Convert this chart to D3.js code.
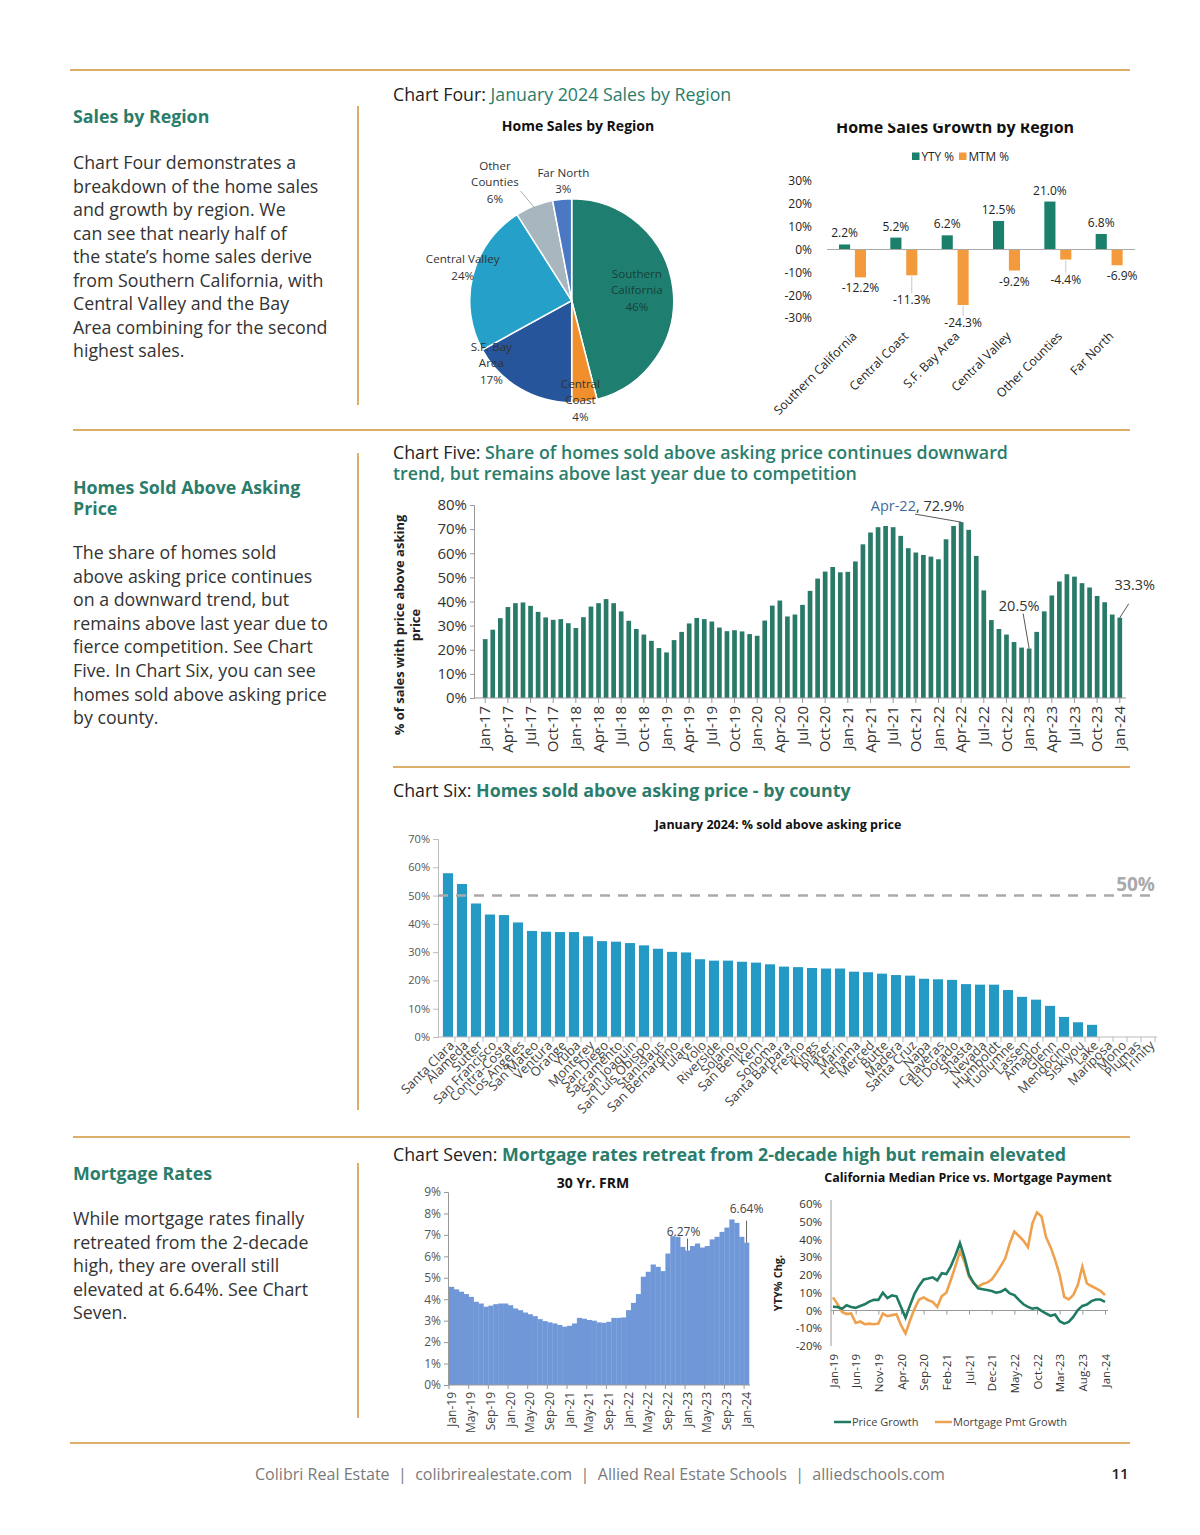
<!DOCTYPE html>
<html lang="en">
<head>
<meta charset="UTF-8">
<title>Sales by Region, Homes Sold Above Asking, Mortgage Rates</title>
<script src="https://cdn.jsdelivr.net/npm/d3@7"></script>
<style>
  body { margin: 0; background: #fff; }
  svg { display: block; }
  text { font-family: "Open Sans", sans-serif; }
  .cg { font-family: Lato, "DejaVu Sans", sans-serif; }
</style>
</head>
<body>
<div id="page"></div>
<script>
// ---- data ----
const pieRegions = ['Southern California', 'Central Coast', 'S.F. Bay Area', 'Central Valley', 'Other Counties', 'Far North'];
const pieShares = [46, 4, 17, 24, 6, 3];

const growthRegions = ['Southern California', 'Central Coast', 'S.F. Bay Area', 'Central Valley', 'Other Counties', 'Far North'];
const ytyValues = [2.2, 5.2, 6.2, 12.5, 21.0, 6.8];
const mtmValues = [-12.2, -11.3, -24.3, -9.2, -4.4, -6.9];

const fmtMon = d3.timeFormat('%b-%y');
const askMonths = d3.timeMonth.range(new Date(2017, 0, 1), new Date(2024, 1, 1)).map(fmtMon);
const askShare = [
  24.4, 28.3, 33.1, 37.7, 39.3, 39.6, 38.2, 35.7, 33.4, 32.4, 32.7, 31.0,
  29.0, 33.5, 37.9, 39.3, 41.0, 39.3, 35.9, 32.0, 28.6, 26.3, 23.7, 20.7,
  18.9, 24.0, 27.4, 30.9, 33.2, 32.7, 31.7, 29.2, 27.7, 28.1, 27.6, 26.5,
  25.8, 32.1, 38.3, 40.4, 33.8, 34.6, 38.6, 44.4, 49.5, 52.4, 54.3, 52.1,
  52.3, 56.6, 63.7, 68.6, 70.8, 71.3, 70.8, 67.2, 62.1, 60.3, 59.3, 58.6,
  57.5, 65.8, 71.3, 72.9, 69.7, 58.9, 44.6, 32.3, 28.6, 26.3, 23.2, 20.9,
  20.5, 27.4, 35.9, 42.5, 48.3, 51.3, 50.3, 47.6, 45.8, 42.3, 39.7, 34.6,
  33.3
];
const askTicks = askMonths.filter((m, i) => i % 3 === 0);

const counties = ['Santa Clara', 'Alameda', 'Sutter', 'San Francisco', 'Contra-Costa', 'Los Angeles', 'San Mateo',
  'Ventura', 'Orange', 'Yuba', 'Monterey', 'San Diego', 'Sacramento', 'San Joaquin', 'San Luis Obispo', 'Stanislaus',
  'San Bernardino', 'Tulare', 'Yolo', 'Riverside', 'Solano', 'San Benito', 'Kern', 'Sonoma', 'Santa Barbara', 'Fresno',
  'Kings', 'Placer', 'Marin', 'Tehama', 'Merced', 'Butte', 'Madera', 'Santa Cruz', 'Napa', 'Calaveras', 'El Dorado',
  'Shasta', 'Nevada', 'Humboldt', 'Tuolumne', 'Lassen', 'Amador', 'Glenn', 'Mendocino', 'Siskiyou', 'Lake',
  'Mariposa', 'Mono', 'Plumas', 'Trinity'];
const countyShare = [57.9, 54.1, 47.2, 43.3, 43.1, 40.5, 37.5, 37.2, 37.1, 37.1, 35.6, 33.9, 33.7, 33.2, 32.4, 31.2,
  30.1, 29.9, 27.5, 27.0, 27.0, 26.6, 26.3, 25.7, 24.9, 24.7, 24.4, 24.2, 24.2, 23.1, 22.9, 22.4, 21.9, 21.7, 20.6,
  20.4, 20.2, 18.7, 18.5, 18.5, 16.6, 14.2, 13.2, 11.0, 7.1, 5.2, 4.3, 0, 0, 0, 0];

const rateMonths = d3.timeMonth.range(new Date(2019, 0, 1), new Date(2024, 1, 1)).map(fmtMon);
const frmRates = [
  4.58, 4.46, 4.35, 4.24, 4.11, 3.88, 3.80, 3.65, 3.70, 3.77, 3.80, 3.80,
  3.72, 3.57, 3.49, 3.38, 3.30, 3.21, 3.07, 2.98, 2.92, 2.87, 2.80, 2.72,
  2.76, 2.87, 3.13, 3.09, 3.03, 3.00, 2.92, 2.90, 2.95, 3.13, 3.13, 3.15,
  3.49, 3.83, 4.24, 5.05, 5.28, 5.62, 5.51, 5.31, 6.13, 6.94, 6.91, 6.44,
  6.27, 6.48, 6.60, 6.41, 6.48, 6.79, 6.91, 7.14, 7.34, 7.72, 7.56, 6.91,
  6.64
];
const frmTicks = rateMonths.filter((m, i) => i % 4 === 0);

const priceGrowth = [
  2.1, 2.0, 1.0, 3.0, 2.0, 1.5, 2.5, 3.5, 5.0, 6.0, 6.0, 10.0,
  7.0, 8.5, 8.0, 2.0, -4.0, 3.0, 9.5, 14.0, 17.5, 18.0, 18.7, 17.0,
  21.0, 20.5, 25.0, 31.0, 38.0, 30.0, 20.0, 15.7, 12.5, 12.0, 11.5, 11.0,
  10.0, 10.5, 12.0, 9.6, 8.7, 6.0, 3.5, 2.0, 1.0, 1.5, -0.2, -1.7,
  -3.0, -2.3, -6.0, -7.4, -6.4, -3.6, 0.2, 2.6, 3.4, 5.3, 6.2, 6.2,
  4.9
];
const pmtGrowth = [
  7.4, 3.6, -0.8, -2.0, -1.7, -7.0, -6.2, -7.7, -7.4, -7.7, -7.4, -1.7,
  -3.2, -2.6, -2.1, -8.3, -13.0, -5.5, 1.1, 6.2, 7.4, 5.8, 4.9, 2.1,
  8.1, 10.0, 17.2, 25.0, 33.2, 27.5, 19.0, 15.3, 13.4, 14.9, 15.7, 17.5,
  21.0, 25.0, 29.4, 37.9, 44.5, 42.0, 39.4, 35.7, 49.2, 55.3, 53.0, 41.3,
  35.7, 28.5, 20.0, 7.7, 6.2, 8.7, 14.3, 24.7, 15.3, 13.8, 12.5, 11.1,
  8.7
];
const payTicks = rateMonths.filter((m, i) => i % 5 === 0);

// ---- page ----
const teal = '#2b7d6b', rule = '#dcae6a', ink = '#333';
const fs = 17.8;
const svg = d3.select('#page').append('svg').attr('width', 1200).attr('height', 1535);

function hline(x1, x2, y) {
  svg.append('line').attr('x1', x1).attr('x2', x2).attr('y1', y).attr('y2', y)
    .attr('stroke', rule).attr('stroke-width', 2);
}
function vline(x, y1, y2) {
  svg.append('line').attr('x1', x).attr('x2', x).attr('y1', y1).attr('y2', y2)
    .attr('stroke', rule).attr('stroke-width', 2);
}
function lines(x, y, arr, lh, size, fill, weight) {
  const t = svg.append('text').attr('x', x).attr('y', y).attr('font-size', size)
    .attr('fill', fill).attr('font-weight', weight || 400);
  arr.forEach((s, i) => t.append('tspan').attr('x', x).attr('y', y + i * lh).text(s));
  return t;
}

hline(70, 1130, 70);
hline(73, 1130, 430);
hline(393, 1130, 767);
hline(73, 1130, 1137);
hline(70, 1130, 1443);
vline(358, 106, 405);
vline(358, 453, 1110);
vline(358, 1163, 1418);

// left column
lines(73, 123, ['Sales by Region'], 0, fs, teal, 700);
lines(73, 169, ['Chart Four demonstrates a', 'breakdown of the home sales', 'and growth by region. We',
  'can see that nearly half of', 'the state\u2019s home sales derive', 'from Southern California, with',
  'Central Valley and the Bay', 'Area combining for the second', 'highest sales.'], 23.5, fs, ink);
lines(73, 494, ['Homes Sold Above Asking', 'Price'], 21, fs, teal, 700);
lines(73, 559, ['The share of homes sold', 'above asking price continues', 'on a downward trend, but',
  'remains above last year due to', 'fierce competition. See Chart', 'Five. In Chart Six, you can see',
  'homes sold above asking price', 'by county.'], 23.6, fs, ink);
lines(73, 1180, ['Mortgage Rates'], 0, fs, teal, 700);
lines(73, 1225, ['While mortgage rates finally', 'retreated from the 2-decade', 'high, they are overall still',
  'elevated at 6.64%. See Chart', 'Seven.'], 23.5, fs, ink);

// chart headings
function heading(y, a, b, w) {
  const t = svg.append('text').attr('x', 393).attr('y', y).attr('font-size', fs);
  t.append('tspan').attr('fill', '#222').text(a);
  t.append('tspan').attr('fill', teal).attr('font-weight', w).text(b);
}
heading(101, 'Chart Four: ', 'January 2024 Sales by Region', 400);
heading(459, 'Chart Five: ', 'Share of homes sold above asking price continues downward', 600);
svg.append('text').attr('x', 393).attr('y', 480).attr('font-size', fs).attr('fill', teal)
  .attr('font-weight', 600).text('trend, but remains above last year due to competition');
heading(797, 'Chart Six: ', 'Homes sold above asking price - by county', 700);
heading(1161, 'Chart Seven: ', 'Mortgage rates retreat from 2-decade high but remain elevated', 700);

// ---- Chart Four: pie ----
const pieColors = ['#1e7f70', '#f08f2c', '#27559b', '#24a0c9', '#a8b6bf', '#4b78c2'];
const pieLabels = [['Southern', 'California'], ['Central', 'Coast'], ['S.F. Bay', 'Area'], ['Central Valley'],
  ['Other', 'Counties'], ['Far North']];
const pieLabelPolar = [[81, 66], [175, 100], [232, 102], [287, 114], [327, 141], [356, 120]];
const pc = [571.7, 300.7], pr = 102;
const polar = (deg, r) => [pc[0] + r * Math.sin(deg * Math.PI / 180), pc[1] - r * Math.cos(deg * Math.PI / 180)];

svg.append('text').attr('x', 578).attr('y', 131).attr('text-anchor', 'middle').attr('font-size', 14)
  .attr('font-weight', 700).attr('fill', '#111').text('Home Sales by Region');
const pieG = svg.append('g').attr('transform', `translate(${pc})`);
const slices = d3.pie().sort(null).value(d => d)(pieShares);
pieG.selectAll('path').data(slices).join('path')
  .attr('d', d3.arc().innerRadius(0).outerRadius(pr))
  .attr('fill', (d, i) => pieColors[i]).attr('stroke', '#fff').attr('stroke-width', 1.5);
const lead = [polar(335, 121), polar(338, 101)];
svg.append('line').attr('x1', lead[0][0]).attr('y1', lead[0][1]).attr('x2', lead[1][0]).attr('y2', lead[1][1])
  .attr('stroke', '#999').attr('stroke-width', 0.8);
slices.forEach((d, i) => {
  const ls = pieLabels[i].concat([pieShares[i] + '%']);
  const [cx, cy] = polar(pieLabelPolar[i][0], pieLabelPolar[i][1]);
  const t = svg.append('text').attr('text-anchor', 'middle').attr('font-size', 11.6)
    .attr('fill', i === 0 ? '#173f3a' : '#333');
  ls.forEach((s, k) => t.append('tspan').attr('x', cx).attr('y', cy - (ls.length - 1) * 8.2 + 4 + k * 16.4).text(s));
});

// ---- Chart Four: growth bars ----
svg.append('clipPath').attr('id', 'clipTop').append('rect').attr('x', 760).attr('y', 123.5).attr('width', 400).attr('height', 40);
svg.append('text').attr('x', 955).attr('y', 133).attr('text-anchor', 'middle').attr('font-size', 16)
  .attr('font-weight', 700).attr('fill', '#111').attr('clip-path', 'url(#clipTop)').text('Home Sales Growth by Region');
const gCol = { yty: '#1a7f6b', mtm: '#f39a3d' };
[['yty', 'YTY %', 912], ['mtm', 'MTM %', 959]].forEach(([k, lab, x]) => {
  svg.append('rect').attr('x', x).attr('y', 152.5).attr('width', 7.5).attr('height', 7.5).attr('fill', gCol[k]);
  svg.append('text').attr('x', x + 9.5).attr('y', 161).attr('font-size', 11.8).attr('fill', '#222').text(lab);
});
const gx0 = d3.scaleBand().domain(growthRegions).range([827, 1135]);
const gx1 = d3.scaleBand().domain(['yty', 'mtm']).range([12, 39]).paddingInner(0.3);
const gy = d3.scaleLinear().domain([-30, 30]).range([318, 181]);
const gAxis = svg.append('g').attr('transform', 'translate(815,0)')
  .call(d3.axisLeft(gy).tickValues(d3.range(-30, 31, 10)).tickSize(0).tickFormat(d => d + '%'));
gAxis.select('.domain').remove();
gAxis.selectAll('text').attr('font-family', 'Open Sans').attr('font-size', 12).attr('fill', '#222');
const growth = growthRegions.map((r, i) => ({ r, yty: ytyValues[i], mtm: mtmValues[i] }));
const gG = svg.append('g');
growth.forEach(d => {
  ['yty', 'mtm'].forEach(k => {
    gG.append('rect').attr('x', gx0(d.r) + gx1(k)).attr('width', gx1.bandwidth())
      .attr('y', gy(Math.max(0, d[k]))).attr('height', Math.abs(gy(d[k]) - gy(0))).attr('fill', gCol[k]);
  });
});
svg.append('line').attr('x1', 827).attr('x2', 1135).attr('y1', gy(0)).attr('y2', gy(0)).attr('stroke', '#aaa');
const mtmDy = [15, 29, 22, 15, 24, 15], mtmDx = [0, 0, 0, 0, 0, 5];
growth.forEach((d, i) => {
  const xa = gx0(d.r) + gx1('yty') + gx1.bandwidth() / 2;
  const xb = gx0(d.r) + gx1('mtm') + gx1.bandwidth() / 2;
  svg.append('text').attr('x', xa).attr('y', gy(d.yty) - 7).attr('text-anchor', 'middle')
    .attr('font-size', 12).attr('fill', '#222').text(d.yty.toFixed(1) + '%');
  svg.append('text').attr('x', xb + mtmDx[i]).attr('y', gy(d.mtm) + mtmDy[i]).attr('text-anchor', 'middle')
    .attr('font-size', 12).attr('fill', '#222').text(d.mtm.toFixed(1) + '%');
  if (mtmDy[i] > 20) {
    svg.append('line').attr('x1', xb).attr('x2', xb).attr('y1', gy(d.mtm) + 1).attr('y2', gy(d.mtm) + mtmDy[i] - 11)
      .attr('stroke', '#bbb').attr('stroke-width', 0.8);
  }
  svg.append('text').attr('transform', `translate(${gx0(d.r) + gx0.bandwidth() / 2 + 5},${337}) rotate(-45)`)
    .attr('text-anchor', 'end').attr('font-size', 12.3).attr('fill', '#222').text(d.r);
});

// ---- Chart Five ----
const x5 = d3.scaleBand().domain(askMonths).range([480, 1125]).padding(0.38);
const y5 = d3.scaleLinear().domain([0, 80]).range([698, 505]);
const c5 = svg.append('g').attr('class', 'cg');
const y5Axis = c5.append('g').attr('transform', 'translate(474,0)')
  .call(d3.axisLeft(y5).ticks(8).tickSize(4).tickFormat(d => d + '%'));
y5Axis.selectAll('text').attr('font-size', 15).attr('fill', '#333').attr('font-family', 'Lato');
y5Axis.selectAll('line,path').attr('stroke', '#999');
c5.selectAll('rect.ask').data(askShare).join('rect').attr('class', 'ask')
  .attr('x', (d, i) => x5(askMonths[i])).attr('width', x5.bandwidth())
  .attr('y', d => y5(d)).attr('height', d => y5(0) - y5(d)).attr('fill', '#2a7a6a');
const x5Axis = c5.append('g').attr('transform', 'translate(0,698)')
  .call(d3.axisBottom(x5).tickValues(askTicks).tickSize(5).tickSizeOuter(0));
x5Axis.select('.domain').attr('d', 'M474,0H1126').attr('stroke', '#999');
x5Axis.selectAll('line').attr('stroke', '#999');
x5Axis.selectAll('text').attr('transform', 'rotate(-90)').attr('text-anchor', 'end')
  .attr('x', -8).attr('y', 0).attr('dy', '0.35em').attr('font-size', 15).attr('fill', '#333').attr('font-family', 'Lato');
const yTitle = svg.append('text').attr('transform', 'translate(404,625) rotate(-90)').attr('text-anchor', 'middle')
  .attr('font-family', 'Lato').attr('font-weight', 700).attr('font-size', 13).attr('fill', '#222');
yTitle.append('tspan').attr('x', 0).attr('y', 0).text('% of sales with price above asking');
yTitle.append('tspan').attr('x', 0).attr('y', 16).text('price');
function ann(month, val, tx, ty, lx, ly, parts, anchor) {
  const bx = x5(month) + x5.bandwidth() / 2, by = y5(val);
  svg.append('line').attr('x1', bx + lx).attr('y1', by + ly).attr('x2', bx).attr('y2', by)
    .attr('stroke', '#444').attr('stroke-width', 0.9);
  const t = svg.append('text').attr('x', bx + tx).attr('y', by + ty).attr('text-anchor', anchor)
    .attr('font-family', 'Lato').attr('font-size', 14.5);
  parts.forEach(([s, c]) => t.append('tspan').attr('fill', c).text(s));
}
ann('Apr-22', 72.9, 3, -11, -46, -8, [['Apr-22', '#3f6c9a'], [', 72.9%', '#333']], 'end');
ann('Jan-23', 20.5, -10, -38, -6, -35, [['20.5%', '#333']], 'middle');
ann('Jan-24', 33.3, 15, -28, 9, -14, [['33.3%', '#333']], 'middle');

// ---- Chart Six ----
const x6 = d3.scaleBand().domain(counties).range([439, 1157]).padding(0.28);
const y6 = d3.scaleLinear().domain([0, 70]).range([1037, 839]);
svg.append('text').attr('x', 778).attr('y', 829).attr('text-anchor', 'middle').attr('font-family', 'Lato')
  .attr('font-weight', 700).attr('font-size', 12.5).attr('fill', '#111').text('January 2024: % sold above asking price');
const y6Axis = svg.append('g').attr('transform', 'translate(438,0)')
  .call(d3.axisLeft(y6).ticks(7).tickSize(5).tickFormat(d => d + '%'));
y6Axis.selectAll('line,path').attr('stroke', '#bbb');
y6Axis.selectAll('text').attr('font-family', 'Lato').attr('font-size', 11).attr('fill', '#555');
svg.selectAll('rect.cty').data(countyShare).join('rect').attr('class', 'cty')
  .attr('x', (d, i) => x6(counties[i])).attr('width', x6.bandwidth())
  .attr('y', d => y6(d)).attr('height', d => y6(0) - y6(d)).attr('fill', '#2399c4');
const x6Axis = svg.append('g').attr('transform', 'translate(0,1037)')
  .call(d3.axisBottom(x6).tickSize(0));
x6Axis.select('.domain').attr('d', 'M438,0H1157').attr('stroke', '#bbb');
x6Axis.selectAll('.tick').append('line').attr('x1', x6.step() / 2).attr('x2', x6.step() / 2)
  .attr('y1', 0).attr('y2', 5).attr('stroke', '#bbb');
x6Axis.selectAll('text').attr('transform', 'translate(4,6) rotate(-45)').attr('text-anchor', 'end')
  .attr('x', 0).attr('y', 0).attr('dy', '0.35em').attr('font-family', 'Lato').attr('font-size', 13).attr('fill', '#444');
svg.append('line').attr('x1', 438).attr('x2', 1157).attr('y1', y6(50)).attr('y2', y6(50))
  .attr('stroke', '#aaa').attr('stroke-width', 2.5).attr('stroke-dasharray', '10,8');
svg.append('text').attr('x', 1155).attr('y', y6(50) - 5).attr('text-anchor', 'end').attr('font-family', 'Lato')
  .attr('font-weight', 700).attr('font-size', 19).attr('fill', '#aaa').text('50%');

// ---- Chart Seven: 30 Yr FRM ----
const x7 = d3.scaleBand().domain(rateMonths).range([449, 749]).padding(0);
const y7 = d3.scaleLinear().domain([0, 9]).range([1385, 1192]);
svg.append('text').attr('x', 593).attr('y', 1188).attr('text-anchor', 'middle').attr('font-family', 'Lato')
  .attr('font-weight', 700).attr('font-size', 14).attr('fill', '#111').text('30 Yr. FRM');
svg.selectAll('rect.frm').data(frmRates).join('rect').attr('class', 'frm')
  .attr('x', (d, i) => x7(rateMonths[i])).attr('width', x7.bandwidth() + 0.3)
  .attr('y', d => y7(d)).attr('height', d => y7(0) - y7(d)).attr('fill', '#7097d8');
const y7Axis = svg.append('g').attr('transform', 'translate(448,0)')
  .call(d3.axisLeft(y7).ticks(9).tickSize(4).tickFormat(d => d + '%'));
y7Axis.selectAll('line,path').attr('stroke', '#999');
y7Axis.selectAll('text').attr('font-family', 'Lato').attr('font-size', 12).attr('fill', '#555');
const x7Axis = svg.append('g').attr('transform', 'translate(0,1385)')
  .call(d3.axisBottom(x7).tickValues(frmTicks).tickSize(4).tickSizeOuter(0));
x7Axis.select('.domain').attr('d', 'M448,0H750').attr('stroke', '#999');
x7Axis.selectAll('line').attr('stroke', '#999').attr('transform', `translate(${-x7.bandwidth() / 2},0)`);
x7Axis.selectAll('text').attr('transform', 'rotate(-90)').attr('text-anchor', 'end')
  .attr('x', -7).attr('y', 0).attr('dy', '0.35em').attr('font-family', 'Lato').attr('font-size', 12).attr('fill', '#444');
[['Jan-23', 6.27, -4, -15, 12], ['Jan-24', 6.64, 0, -30, 22]].forEach(([m, v, tx, ty, ll]) => {
  const bx = x7(m) + x7.bandwidth() / 2, by = y7(v);
  svg.append('line').attr('x1', bx).attr('x2', bx).attr('y1', by - ll).attr('y2', by).attr('stroke', '#555').attr('stroke-width', 0.9);
  svg.append('text').attr('x', bx + tx).attr('y', by + ty).attr('text-anchor', 'middle').attr('font-family', 'Lato')
    .attr('font-size', 12).attr('fill', '#444').text(v.toFixed(2) + '%');
});

// ---- Chart Seven: price vs payment ----
const x8 = d3.scalePoint().domain(rateMonths).range([833, 1105]);
const y8 = d3.scaleLinear().domain([-20, 60]).range([1346, 1204]);
svg.append('text').attr('x', 968).attr('y', 1182).attr('text-anchor', 'middle').attr('font-family', 'Lato')
  .attr('font-weight', 700).attr('font-size', 12.5).attr('fill', '#111').text('California Median Price vs. Mortgage Payment');
const y8Axis = svg.append('g').attr('transform', 'translate(831,0)')
  .call(d3.axisLeft(y8).ticks(8).tickSize(0).tickPadding(9).tickFormat(d => d + '%'));
y8Axis.select('.domain').attr('d', 'M0,1200V1346').attr('stroke', '#999');
y8Axis.selectAll('text').attr('font-family', 'Lato').attr('font-size', 11.5).attr('fill', '#333');
const x8Axis = svg.append('g').attr('transform', `translate(0,${y8(0)})`)
  .call(d3.axisBottom(x8).tickValues(payTicks).tickSize(4).tickSizeOuter(0));
x8Axis.select('.domain').attr('d', 'M831,0H1108').attr('stroke', '#999');
x8Axis.selectAll('line').attr('stroke', '#999');
x8Axis.selectAll('text').attr('transform', 'rotate(-90)').attr('text-anchor', 'end')
  .attr('x', -(1354 - y8(0))).attr('y', 0).attr('dy', '0.35em').attr('font-family', 'Lato')
  .attr('font-size', 11.5).attr('fill', '#333');
svg.append('text').attr('transform', 'translate(782,1283) rotate(-90)').attr('text-anchor', 'middle')
  .attr('font-family', 'Lato').attr('font-weight', 700).attr('font-size', 11).attr('fill', '#222').text('YTY% Chg.');
const line8 = d3.line().x((d, i) => x8(rateMonths[i])).y(d => y8(d));
svg.append('path').datum(pmtGrowth).attr('d', line8).attr('fill', 'none').attr('stroke', '#eea24f').attr('stroke-width', 2.6);
svg.append('path').datum(priceGrowth).attr('d', line8).attr('fill', 'none').attr('stroke', '#1f7b63').attr('stroke-width', 2.6);
[['Price Growth', '#1f7b63', 834], ['Mortgage Pmt Growth', '#eea24f', 935]].forEach(([lab, c, x]) => {
  svg.append('line').attr('x1', x).attr('x2', x + 17).attr('y1', 1422).attr('y2', 1422).attr('stroke', c).attr('stroke-width', 2.5);
  svg.append('text').attr('x', x + 18).attr('y', 1426).attr('font-size', 11).attr('fill', '#444').text(lab);
});

// ---- footer ----
svg.append('text').attr('x', 600).attr('y', 1480).attr('text-anchor', 'middle')
  .attr('font-family', '"Liberation Sans Narrow", "Open Sans", sans-serif').attr('font-size', 16).attr('fill', '#7a7a7a')
  .attr('textLength', 690).attr('lengthAdjust', 'spacingAndGlyphs').attr('xml:space', 'preserve')
  .text('Colibri Real Estate  |  colibrirealestate.com  |  Allied Real Estate Schools  |  alliedschools.com');
svg.append('text').attr('x', 1120).attr('y', 1479).attr('text-anchor', 'middle').attr('font-size', 15)
  .attr('font-weight', 600).attr('fill', '#222').text('11');
</script>
</body>
</html>
